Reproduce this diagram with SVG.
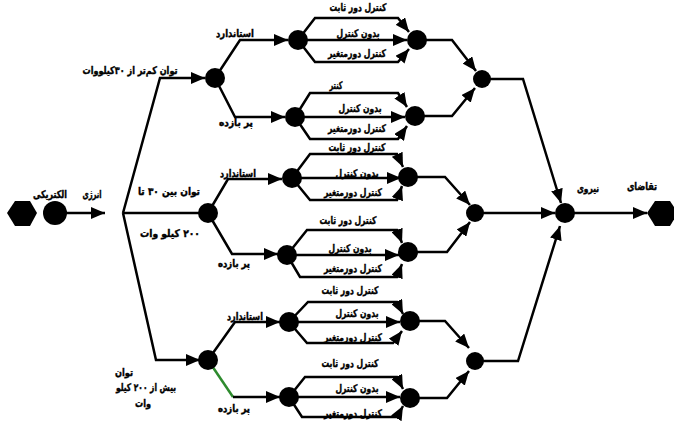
<svg xmlns="http://www.w3.org/2000/svg" width="674" height="423" viewBox="0 0 674 423">
<defs>
<marker id="a" viewBox="0 0 14 12" refX="14" refY="6" markerWidth="14" markerHeight="12" markerUnits="userSpaceOnUse" orient="auto"><path d="M0,0 L14,6 L0,12 Z" fill="#000"/></marker>
<style>
.c{fill:none;stroke:#000;stroke-width:2.5;stroke-linejoin:miter}
.ar{marker-end:url(#a)}
.n{fill:#000}
text{font-family:"DejaVu Sans",sans-serif;font-weight:bold;font-size:10.5px;text-anchor:middle;fill:#000;stroke:#000;stroke-width:0.4;direction:rtl}
</style>
</defs>
<rect width="674" height="423" fill="#fff"/>
<g id="connectors">
<path class="c ar" d="M55,213 H105"/>
<path class="c ar" d="M123,213 L160,78 H205"/>
<path class="c" d="M123,213 H200"/>
<path class="c ar" d="M123,213 L156,360 H200"/>
<path class="c ar" d="M215,78 L240,40 H288"/>
<path class="c ar" d="M215,78 L235,117 H285"/>
<path class="c ar" d="M298,40 L315,18 H398 L409,32"/>
<path class="c ar" d="M298,40 H407"/>
<path class="c ar" d="M298,40 L315,62 H398 L409,49"/>
<path class="c ar" d="M295,117 L310,93 H398 L407,107"/>
<path class="c ar" d="M295,117 H405"/>
<path class="c ar" d="M295,117 L310,139 H398 L407,126"/>
<path class="c ar" d="M417,40 H452 L476,71"/>
<path class="c ar" d="M415,116 H452 L475,88"/>
<path class="c ar" d="M482,79 H523 L561,203"/>
<path class="c ar" d="M208,213 L228,179 H282"/>
<path class="c ar" d="M208,213 L232,254 H278"/>
<path class="c ar" d="M292,178 L310,154 H397 L403,167"/>
<path class="c ar" d="M292,178 H401"/>
<path class="c ar" d="M292,178 L310,200 H397 L402,186"/>
<path class="c ar" d="M287,255 L307,230 H397 L402,243"/>
<path class="c ar" d="M287,255 H399"/>
<path class="c ar" d="M287,255 L300,277 H397 L402,264"/>
<path class="c ar" d="M408,177 H445 L470,205"/>
<path class="c ar" d="M408,252 H447 L470,222"/>
<path class="c ar" d="M475,213 H555"/>
<path class="c ar" d="M208,360 L235,322 H280"/>
<path class="c" d="M208,360 L233,397" style="stroke:#2e8b2e"/>
<path class="c ar" d="M233,397 H280"/>
<path class="c ar" d="M289,322 L308,302 H397 L403,314"/>
<path class="c ar" d="M289,322 H400"/>
<path class="c ar" d="M289,322 L307,343 H393 L402,331"/>
<path class="c ar" d="M289,397 L305,377 H397 L403,389"/>
<path class="c ar" d="M289,397 H400"/>
<path class="c ar" d="M289,397 L302,417 H397 L403,406"/>
<path class="c ar" d="M410,321 H445 L469,348"/>
<path class="c ar" d="M410,398 H447 L469,371"/>
<path class="c ar" d="M475,361 H518 L560,226"/>
<path class="c ar" d="M565,213 H647"/>
</g>
<g id="labels">
<text x="50" y="198" textLength="34" lengthAdjust="spacingAndGlyphs">الکتریکی</text>
<text x="92" y="198" textLength="19" lengthAdjust="spacingAndGlyphs">انرژی</text>
<text x="130" y="74" textLength="95" lengthAdjust="spacingAndGlyphs">توان کم‌تر از ۳۰کیلووات</text>
<text x="169" y="195" textLength="62" lengthAdjust="spacingAndGlyphs">توان بین ۳۰ تا</text>
<text x="170" y="237" textLength="60" lengthAdjust="spacingAndGlyphs">۲۰۰ کیلو وات</text>
<text x="124" y="376" textLength="18" lengthAdjust="spacingAndGlyphs">توان</text>
<text x="146" y="391" textLength="60" lengthAdjust="spacingAndGlyphs">بیش از ۲۰۰ کیلو</text>
<text x="143" y="407" textLength="16" lengthAdjust="spacingAndGlyphs">وات</text>
<text x="235" y="37" textLength="38" lengthAdjust="spacingAndGlyphs">استاندارد</text>
<text x="236" y="126" textLength="34" lengthAdjust="spacingAndGlyphs">پر بازده</text>
<text x="238" y="177" textLength="36" lengthAdjust="spacingAndGlyphs">استاندارد</text>
<text x="234" y="267" textLength="32" lengthAdjust="spacingAndGlyphs">پر بازده</text>
<text x="245" y="320" textLength="36" lengthAdjust="spacingAndGlyphs">استاندارد</text>
<text x="234" y="412" textLength="32" lengthAdjust="spacingAndGlyphs">پر بازده</text>
<text x="358" y="11" textLength="57" lengthAdjust="spacingAndGlyphs">کنترل دور ثابت</text>
<text x="358" y="37" textLength="43" lengthAdjust="spacingAndGlyphs">بدون کنترل</text>
<text x="357" y="57" textLength="58" lengthAdjust="spacingAndGlyphs">کنترل دورمتغیر</text>
<text x="336" y="89" textLength="13" lengthAdjust="spacingAndGlyphs">کنتر</text>
<text x="360" y="112" textLength="43" lengthAdjust="spacingAndGlyphs">بدون کنترل</text>
<text x="357" y="132" textLength="58" lengthAdjust="spacingAndGlyphs">کنترل دورمتغیر</text>
<text x="357" y="151" textLength="57" lengthAdjust="spacingAndGlyphs">کنترل دور ثابت</text>
<text x="357" y="177" textLength="43" lengthAdjust="spacingAndGlyphs">بدون کنترل</text>
<text x="353" y="196" textLength="58" lengthAdjust="spacingAndGlyphs">کنترل دورمتغیر</text>
<text x="348" y="224" textLength="57" lengthAdjust="spacingAndGlyphs">کنترل دور ثابت</text>
<text x="350" y="252" textLength="43" lengthAdjust="spacingAndGlyphs">بدون کنترل</text>
<text x="353" y="272" textLength="58" lengthAdjust="spacingAndGlyphs">کنترل دورمتغیر</text>
<text x="350" y="294" textLength="57" lengthAdjust="spacingAndGlyphs">کنترل دور ثابت</text>
<text x="357" y="317" textLength="43" lengthAdjust="spacingAndGlyphs">بدون کنترل</text>
<text x="353" y="341" textLength="58" lengthAdjust="spacingAndGlyphs">کنترل دورمتغیر</text>
<text x="350" y="367" textLength="57" lengthAdjust="spacingAndGlyphs">کنترل دور ثابت</text>
<text x="357" y="392" textLength="43" lengthAdjust="spacingAndGlyphs">بدون کنترل</text>
<text x="353" y="417" textLength="58" lengthAdjust="spacingAndGlyphs">کنترل دورمتغیر</text>
<text x="588" y="192" textLength="22" lengthAdjust="spacingAndGlyphs">نیروی</text>
<text x="642" y="190" textLength="30" lengthAdjust="spacingAndGlyphs">تقاضای</text>
</g>
<g id="source"><polygon class="n" points="7,213 15,201 30,201 37,213 30,226 15,226"/></g>
<g id="n-src"><circle class="n" cx="55" cy="213" r="12"/></g>
<g id="n-l1a"><circle class="n" cx="215" cy="78" r="10"/></g>
<g id="n-l1b"><circle class="n" cx="208" cy="213" r="10"/></g>
<g id="n-l1c"><circle class="n" cx="208" cy="360" r="10"/></g>
<g id="n-a1"><circle class="n" cx="298" cy="40" r="10"/></g>
<g id="n-a2"><circle class="n" cx="295" cy="117" r="10"/></g>
<g id="n-b1"><circle class="n" cx="292" cy="178" r="10"/></g>
<g id="n-b2"><circle class="n" cx="287" cy="255" r="10"/></g>
<g id="n-c1"><circle class="n" cx="289" cy="322" r="10"/></g>
<g id="n-c2"><circle class="n" cx="289" cy="397" r="10"/></g>
<g id="n-a1r"><circle class="n" cx="417" cy="40" r="10"/></g>
<g id="n-a2r"><circle class="n" cx="415" cy="116" r="10"/></g>
<g id="n-b1r"><circle class="n" cx="408" cy="177" r="10"/></g>
<g id="n-b2r"><circle class="n" cx="408" cy="252" r="10"/></g>
<g id="n-c1r"><circle class="n" cx="410" cy="321" r="10"/></g>
<g id="n-c2r"><circle class="n" cx="410" cy="398" r="10"/></g>
<g id="n-l3a"><circle class="n" cx="482" cy="79" r="9"/></g>
<g id="n-l3b"><circle class="n" cx="475" cy="213" r="9"/></g>
<g id="n-l3c"><circle class="n" cx="475" cy="361" r="9"/></g>
<g id="n-final"><circle class="n" cx="565" cy="213" r="10"/></g>
<g id="sink"><polygon class="n" points="647,213 655,201 670,201 678,213 670,226 655,226"/></g>
</svg>
